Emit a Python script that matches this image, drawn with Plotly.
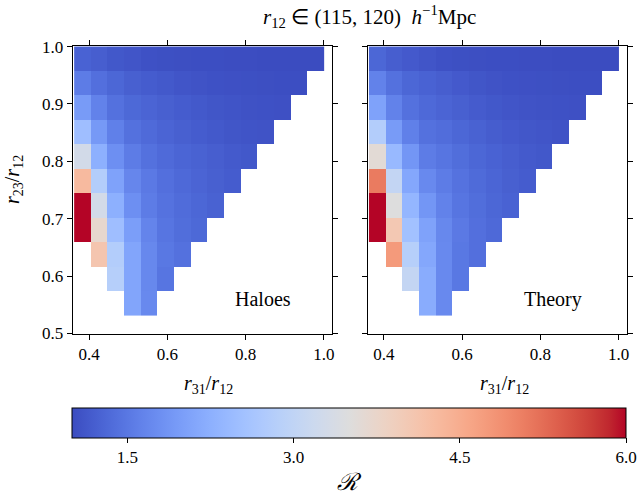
import plotly.graph_objects as go

# ---------------- data ----------------
R12_MID = 117.5  # h^-1 Mpc, centre of the r12 bin (115, 120)
r31_centres = [45, 50, 55, 60, 65, 70, 75, 80, 85, 90, 95, 100, 105, 110, 115]
r23_centres = [115, 110, 105, 100, 95, 90, 85, 80, 75, 70, 65]
row_start = [0, 0, 0, 0, 0, 0, 0, 0, 1, 2, 3]

haloes_rows = [
    [1.25, 1.20, 1.13, 1.10, 1.06, 1.04, 1.03, 1.02, 1.02, 1.01, 1.01, 1.00, 1.00, 1.00, 1.00],
    [1.55, 1.40, 1.30, 1.22, 1.18, 1.14, 1.10, 1.08, 1.06, 1.05, 1.04, 1.03, 1.02, 1.02],
    [1.95, 1.62, 1.42, 1.32, 1.27, 1.22, 1.18, 1.14, 1.11, 1.09, 1.07, 1.06, 1.05],
    [2.50, 1.92, 1.60, 1.42, 1.34, 1.27, 1.22, 1.18, 1.14, 1.11, 1.09, 1.08],
    [3.30, 2.25, 1.80, 1.55, 1.42, 1.34, 1.28, 1.24, 1.20, 1.16, 1.13],
    [4.30, 2.80, 2.05, 1.68, 1.52, 1.40, 1.33, 1.27, 1.22, 1.18],
    [6.50, 3.30, 2.25, 1.80, 1.55, 1.43, 1.36, 1.30, 1.24],
    [6.50, 3.70, 2.50, 2.00, 1.65, 1.47, 1.38, 1.32],
    [4.10, 2.80, 2.10, 1.70, 1.50, 1.42],
    [2.85, 2.10, 1.70, 1.47],
    [2.10, 1.72],
]

theory_rows = [
    [1.30, 1.20, 1.15, 1.10, 1.06, 1.04, 1.03, 1.02, 1.02, 1.01, 1.01, 1.00, 1.00, 1.00, 1.00],
    [1.62, 1.42, 1.30, 1.25, 1.20, 1.15, 1.11, 1.08, 1.06, 1.05, 1.04, 1.03, 1.02, 1.02],
    [2.05, 1.63, 1.42, 1.33, 1.27, 1.22, 1.17, 1.13, 1.10, 1.08, 1.07, 1.06, 1.05],
    [2.80, 1.95, 1.60, 1.42, 1.37, 1.30, 1.24, 1.19, 1.15, 1.12, 1.10, 1.08],
    [3.60, 2.40, 1.88, 1.55, 1.47, 1.38, 1.30, 1.25, 1.20, 1.16, 1.13],
    [5.10, 3.05, 2.12, 1.72, 1.55, 1.43, 1.35, 1.28, 1.22, 1.18],
    [6.50, 3.50, 2.35, 1.88, 1.62, 1.47, 1.38, 1.30, 1.25],
    [6.50, 4.05, 2.55, 2.05, 1.70, 1.52, 1.40, 1.33],
    [4.75, 2.85, 2.12, 1.72, 1.50, 1.40],
    [3.05, 2.20, 1.72, 1.50],
    [2.20, 1.72],
]

x_ticks = [0.4, 0.6, 0.8, 1.0]
x_tick_text = ["0.4", "0.6", "0.8", "1.0"]
y_ticks = [0.5, 0.6, 0.7, 0.8, 0.9, 1.0]
y_tick_text = ["0.5", "0.6", "0.7", "0.8", "0.9", "1.0"]
cb_ticks = [1.5, 3.0, 4.5, 6.0]
cb_tick_text = ["1.5", "3.0", "4.5", "6.0"]
R_MIN, R_MAX = 1.0, 6.0

# matplotlib "coolwarm" control points
_cw = [
    (0.2298057, 0.298717966, 0.753683153), (0.26623388, 0.353094838, 0.801466763),
    (0.30386891, 0.406535296, 0.84495867), (0.342804478, 0.458757618, 0.883725899),
    (0.38301334, 0.50941904, 0.917387822), (0.424369608, 0.558148092, 0.945619588),
    (0.46666708, 0.604562568, 0.968154911), (0.509635204, 0.648280772, 0.98478814),
    (0.552953156, 0.688929332, 0.995375608), (0.596262162, 0.726149107, 0.999836203),
    (0.639176211, 0.759599947, 0.998151185), (0.681291281, 0.788964712, 0.990363227),
    (0.722193294, 0.813952739, 0.976574709), (0.761464949, 0.834302879, 0.956945269),
    (0.798691636, 0.849786142, 0.931688648), (0.833466556, 0.860207984, 0.901068838),
    (0.865395197, 0.86541021, 0.865395561), (0.897787179, 0.848937047, 0.820880546),
    (0.924127593, 0.827384882, 0.774508472), (0.944468518, 0.800927443, 0.726736146),
    (0.958852946, 0.769767752, 0.678007945), (0.96732803, 0.734132809, 0.628751763),
    (0.969954137, 0.694266682, 0.579375448), (0.966811177, 0.650421156, 0.530263762),
    (0.958003065, 0.602842431, 0.481775914), (0.943660866, 0.551750968, 0.434243684),
    (0.923944917, 0.49730856, 0.387970225), (0.89904617, 0.439559467, 0.343229596),
    (0.869186849, 0.378313092, 0.300267182), (0.834620542, 0.312874446, 0.259301199),
    (0.795631745, 0.24128379, 0.220525627), (0.752534934, 0.157246067, 0.184115123),
    (0.705673158, 0.01555616, 0.150232812),
]
coolwarm = [
    [i / (len(_cw) - 1), "rgb(%d,%d,%d)" % tuple(round(c * 255) for c in rgb)]
    for i, rgb in enumerate(_cw)
]

ncol = len(r31_centres)


def to_grid(rows):
    grid = []
    for start, vals in zip(row_start, rows):
        grid.append([None] * start + list(vals) + [None] * (ncol - start - len(vals)))
    return grid


xs = [r / R12_MID for r in r31_centres]
ys = [r / R12_MID for r in r23_centres]

W, H = 641, 500
FONT = "Liberation Serif"

fig = go.Figure()
fig.add_trace(go.Heatmap(z=to_grid(haloes_rows), x=xs, y=ys, coloraxis="coloraxis",
                         xaxis="x", yaxis="y", hoverongaps=False, name="Haloes"))
fig.add_trace(go.Heatmap(z=to_grid(theory_rows), x=xs, y=ys, coloraxis="coloraxis",
                         xaxis="x2", yaxis="y2", hoverongaps=False, name="Theory"))

axis_common = dict(showline=True, linecolor="black", linewidth=1, mirror="ticks",
                   ticks="outside", ticklen=5, tickwidth=1, tickcolor="black",
                   showgrid=False, zeroline=False, automargin=False,
                   tickfont=dict(family=FONT, size=17, color="black"))

y_bot, y_top = 1 - 333.5 / H, 1 - 46 / H
fig.update_layout(
    template="none",
    width=W, height=H,
    margin=dict(l=0, r=0, t=0, b=0, pad=0),
    paper_bgcolor="white", plot_bgcolor="white",
    showlegend=False,
    font=dict(family=FONT, color="black"),
    xaxis=dict(domain=[72.7 / W, 331.7 / W], range=[0.358, 1.02],
               tickvals=x_ticks, ticktext=x_tick_text, anchor="y", **axis_common),
    yaxis=dict(domain=[y_bot, y_top], range=[0.5, 1.001],
               tickvals=y_ticks, ticktext=y_tick_text, anchor="x", **axis_common),
    xaxis2=dict(domain=[367.5 / W, 626.5 / W], range=[0.358, 1.02],
                tickvals=x_ticks, ticktext=x_tick_text, anchor="y2", **axis_common),
    yaxis2=dict(domain=[y_bot, y_top], range=[0.5, 1.001],
                tickvals=y_ticks, ticktext=y_tick_text, anchor="x2",
                showticklabels=False, **axis_common),
    coloraxis=dict(
        cmin=R_MIN, cmax=R_MAX, colorscale=coolwarm,
        colorbar=dict(
            orientation="h", x=349 / W, xanchor="center",
            y=1 - 408 / H, yanchor="top",
            len=554 / W, lenmode="fraction", thickness=30,
            xpad=0, ypad=0,
            outlinecolor="black", outlinewidth=1,
            ticks="outside", ticklen=5, tickcolor="black",
            tickvals=cb_ticks, ticktext=cb_tick_text,
            tickfont=dict(family=FONT, size=17, color="black"),
        ),
    ),
)

ann_font = dict(family=FONT, size=20, color="black")


def label(text, px, py, **kw):
    fig.add_annotation(text=text, x=px / W, y=1 - py / H, xref="paper", yref="paper",
                       xanchor="center", yanchor="middle", showarrow=False,
                       font=kw.pop("font", ann_font), **kw)


label("<i>r</i><sub>12</sub> ∈ (115, 120)  <i>h</i><sup>−1</sup>Mpc", 369, 16,
      font=dict(family=FONT, size=21, color="black"))
label("<i>r</i><sub>31</sub>/<i>r</i><sub>12</sub>", 209, 384)
label("<i>r</i><sub>31</sub>/<i>r</i><sub>12</sub>", 504, 384)
label("<i>r</i><sub>23</sub>/<i>r</i><sub>12</sub>", 13, 180, textangle=-90)
label("<i>ℛ</i>", 349, 482, font=dict(family=FONT, size=24, color="black"))

fig.add_annotation(text="Haloes", x=0.845, y=0.56, xref="x", yref="y",
                   xanchor="center", yanchor="middle",
                   showarrow=False, font=dict(family=FONT, size=20, color="black"))
fig.add_annotation(text="Theory", x=0.832, y=0.56, xref="x2", yref="y2",
                   xanchor="center", yanchor="middle",
                   showarrow=False, font=dict(family=FONT, size=20, color="black"))

fig.write_html("out.html", config={"displayModeBar": False},
               post_script="document.body.style.margin='0';document.body.style.padding='0';")
